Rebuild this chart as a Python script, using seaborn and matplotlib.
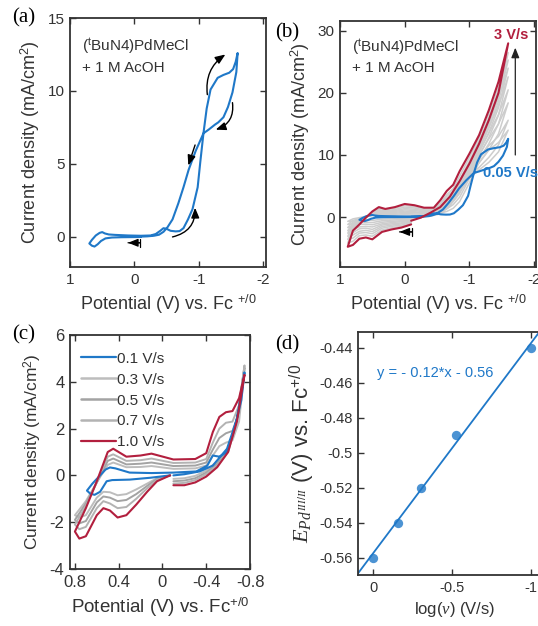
import matplotlib
matplotlib.use("Agg")
import matplotlib.pyplot as plt
from matplotlib.lines import Line2D
from matplotlib.ticker import FuncFormatter
import seaborn as sns

BLUE = "#1f78c8"
RED = "#b21f3e"
INK = "#333333"

# (a) and blue trace in (b): 0.05 V/s, potential (V) and current density (mA/cm2)
slow_e = [-0.1, 0.0, 0.2, 0.35, 0.45, 0.52, 0.57, 0.62, 0.66, 0.70,
          0.66, 0.6, 0.54, 0.5, 0.46, 0.4, 0.3, 0.1, -0.1, -0.25,
          -0.33, -0.4, -0.45, -0.5, -0.56, -0.64, -0.7, -0.76, -0.83, -0.9,
          -0.98, -1.02, -1.07, -1.12, -1.18, -1.29, -1.38, -1.47, -1.53, -1.57, -1.60,
          -1.58, -1.52, -1.45, -1.38, -1.3, -1.25, -1.15, -1.07, -0.95, -0.84,
          -0.76, -0.68, -0.59, -0.51, -0.45, -0.38, -0.3, -0.2, -0.1]
slow_j = [0.0, -0.01, -0.02, -0.04, -0.1, -0.28, -0.5, -0.66, -0.6, -0.45,
          -0.2, 0.1, 0.28, 0.33, 0.24, 0.17, 0.14, 0.1, 0.08, 0.1,
          0.2, 0.42, 0.6, 0.55, 0.42, 0.38, 0.4, 0.6, 1.2, 1.9,
          3.4, 5.1, 7.1, 8.8, 10.1, 10.9, 11.1, 11.25, 11.5, 12.0, 12.6,
          11.3, 9.9, 8.9, 8.2, 7.85, 7.7, 7.35, 7.1, 5.9, 4.6,
          3.4, 2.3, 1.2, 0.65, 0.35, 0.15, 0.08, 0.04, 0.02]

# (b) scan-rate series on shared potential grids: start -> +vertex, -> -vertex, -> end
b_init_e = [-0.1, 0.05, 0.2, 0.35, 0.5, 0.6, 0.7, 0.8, 0.88]
b_fwd_e = [0.88, 0.8, 0.7, 0.6, 0.5, 0.4, 0.3, 0.15, 0.0, -0.15, -0.3,
           -0.45, -0.55, -0.65, -0.75, -0.85, -1.0, -1.15, -1.3, -1.45, -1.6]
b_rev_e = [-1.6, -1.45, -1.3, -1.15, -1.0, -0.85, -0.7, -0.55, -0.4, -0.25, -0.1]

b_red_init = [-1.2, -1.7, -2.0, -2.4, -3.6, -3.3, -3.5, -4.5, -4.8]
b_red_fwd = [-4.8, -2.2, -1.2, -0.1, 0.9, 1.6, 1.3, 1.6, 2.1, 1.9, 1.5,
             1.5, 2.7, 4.2, 5.2, 7.4, 10.2, 13.2, 17.2, 21.8, 28.0]
b_red_rev = [28.0, 20.0, 15.6, 11.8, 8.6, 5.8, 3.3, 1.6, 0.7, -0.1, -0.6]

b_gray_init = [
    [-0.2, -0.25, -0.3, -0.35, -0.55, -0.5, -0.55, -0.7, -0.7],
    [-0.3, -0.4, -0.5, -0.6, -0.9, -0.85, -0.9, -1.1, -1.2],
    [-0.4, -0.6, -0.7, -0.85, -1.25, -1.15, -1.2, -1.6, -1.7],
    [-0.55, -0.75, -0.9, -1.1, -1.6, -1.5, -1.6, -2.0, -2.2],
    [-0.65, -0.95, -1.1, -1.3, -2.0, -1.8, -1.9, -2.5, -2.6],
    [-0.8, -1.1, -1.3, -1.55, -2.35, -2.15, -2.3, -2.9, -3.1],
    [-0.9, -1.3, -1.5, -1.8, -2.7, -2.5, -2.6, -3.4, -3.6],
    [-1.05, -1.5, -1.75, -2.1, -3.1, -2.9, -3.0, -3.9, -4.2],
]
b_gray_fwd = [
    [-0.7, -0.3, -0.1, 0.1, 0.25, 0.35, 0.3, 0.3, 0.35, 0.3, 0.3, 0.35, 0.6, 0.9, 1.4, 2.5, 5.5, 8.8, 10.8, 12.0, 14.0],
    [-1.2, -0.55, -0.25, 0.05, 0.3, 0.45, 0.4, 0.45, 0.55, 0.5, 0.45, 0.5, 0.8, 1.3, 2.0, 3.2, 6.2, 9.3, 11.5, 13.0, 15.6],
    [-1.7, -0.8, -0.4, 0.0, 0.35, 0.6, 0.5, 0.6, 0.75, 0.7, 0.6, 0.6, 1.0, 1.7, 2.5, 3.8, 6.8, 10.0, 12.6, 15.0, 18.4],
    [-2.2, -1.0, -0.55, -0.05, 0.4, 0.75, 0.6, 0.75, 0.95, 0.85, 0.7, 0.7, 1.2, 2.1, 3.0, 4.4, 7.4, 10.6, 13.5, 16.5, 20.5],
    [-2.6, -1.25, -0.65, -0.05, 0.5, 0.9, 0.75, 0.9, 1.15, 1.05, 0.85, 0.85, 1.45, 2.5, 3.4, 5.0, 8.0, 11.2, 14.4, 18.0, 22.6],
    [-3.1, -1.45, -0.8, -0.05, 0.6, 1.05, 0.85, 1.05, 1.35, 1.25, 1.0, 1.0, 1.7, 2.9, 3.8, 5.5, 8.6, 11.8, 15.2, 19.2, 24.0],
    [-3.6, -1.7, -0.9, -0.1, 0.7, 1.2, 1.0, 1.2, 1.6, 1.45, 1.15, 1.15, 1.95, 3.3, 4.2, 6.0, 9.0, 12.3, 15.9, 20.2, 25.3],
    [-4.2, -1.95, -1.05, -0.1, 0.8, 1.4, 1.15, 1.4, 1.85, 1.65, 1.3, 1.3, 2.2, 3.6, 4.6, 6.6, 9.6, 12.8, 16.6, 21.0, 26.5],
]
b_gray_rev = [
    [14.0, 10.5, 8.8, 7.6, 6.3, 4.0, 1.8, 0.5, 0.15, 0.0, -0.05],
    [15.6, 11.6, 9.6, 8.0, 6.6, 4.3, 2.0, 0.6, 0.2, 0.0, -0.1],
    [18.4, 13.4, 10.8, 8.7, 7.0, 4.6, 2.3, 0.75, 0.25, -0.02, -0.15],
    [20.5, 15.0, 11.8, 9.3, 7.3, 4.9, 2.5, 0.9, 0.3, -0.04, -0.2],
    [22.6, 16.4, 12.8, 9.9, 7.6, 5.1, 2.7, 1.0, 0.35, -0.06, -0.3],
    [24.0, 17.6, 13.6, 10.4, 7.9, 5.3, 2.9, 1.1, 0.4, -0.07, -0.35],
    [25.3, 18.6, 14.3, 10.8, 8.1, 5.5, 3.1, 1.2, 0.45, -0.08, -0.4],
    [26.5, 19.5, 14.9, 11.2, 8.3, 5.7, 3.3, 1.3, 0.5, -0.09, -0.45],
]

# (c) 0.1-1.0 V/s, shared grids: start -> -vertex, -> +vertex, -> end
c_seg1_e = [-0.1, -0.2, -0.3, -0.4, -0.5, -0.6, -0.68, -0.75]
c_seg2_e = [-0.75, -0.7, -0.64, -0.58, -0.52, -0.46, -0.4, -0.3, -0.1,
            0.1, 0.2, 0.33, 0.45, 0.5, 0.6, 0.7, 0.8]
c_seg3_e = [0.8, 0.76, 0.7, 0.6, 0.54, 0.48, 0.41, 0.33, 0.24, 0.14, 0.05, -0.07]

c_red_1 = [-0.42, -0.42, -0.3, -0.05, 0.35, 1.0, 2.3, 4.3]
c_red_2 = [4.3, 3.3, 2.75, 2.7, 2.5, 1.85, 0.95, 0.7, 0.68, 0.93, 0.85, 0.8, 1.14, 1.0, -0.25, -1.4, -2.4]
c_red_3 = [-2.4, -2.7, -2.6, -1.7, -1.4, -1.5, -1.8, -1.7, -1.25, -0.7, -0.25, 0.0]

c_gray_labels = ["0.3 V/s", "0.5 V/s", "0.7 V/s"]
c_gray_colors = ["#bdbdbd", "#a3a3a3", "#b3b3b3"]
c_gray_1 = [
    [-0.15, -0.12, -0.02, 0.2, 0.6, 1.1, 2.4, 4.5],
    [-0.25, -0.22, -0.12, 0.12, 0.5, 1.05, 2.35, 4.6],
    [-0.35, -0.32, -0.2, 0.05, 0.42, 1.0, 2.3, 4.7],
]
c_gray_2 = [
    [4.5, 2.3, 1.5, 1.4, 1.25, 0.85, 0.42, 0.3, 0.28, 0.4, 0.36, 0.35, 0.55, 0.45, -0.3, -1.1, -1.7],
    [4.6, 2.7, 1.9, 1.8, 1.6, 1.1, 0.55, 0.42, 0.4, 0.55, 0.5, 0.47, 0.72, 0.62, -0.3, -1.2, -1.9],
    [4.7, 3.0, 2.3, 2.25, 2.0, 1.4, 0.7, 0.55, 0.53, 0.72, 0.65, 0.62, 0.9, 0.8, -0.3, -1.3, -2.1],
]
c_gray_3 = [
    [-1.7, -1.8, -1.7, -0.95, -0.7, -0.72, -0.85, -0.8, -0.6, -0.35, -0.12, 0.0],
    [-1.9, -2.05, -1.95, -1.15, -0.9, -0.95, -1.1, -1.05, -0.8, -0.45, -0.15, 0.0],
    [-2.1, -2.3, -2.2, -1.4, -1.1, -1.2, -1.4, -1.35, -1.0, -0.55, -0.2, 0.0],
]

c_blue_e = [-0.1, -0.2, -0.34, -0.46, -0.59, -0.68, -0.75, -0.72, -0.65, -0.59, -0.52,
            -0.46, -0.41, -0.31, -0.1, 0.1, 0.3, 0.43, 0.48, 0.52, 0.57, 0.64, 0.69,
            0.66, 0.62, 0.57, 0.51, 0.46, 0.3, 0.11, -0.07]
c_blue_j = [0.0, 0.05, 0.17, 0.42, 1.14, 2.4, 4.4, 3.2, 1.86, 1.0, 0.8,
            0.85, 0.42, 0.17, 0.12, 0.1, 0.12, 0.3, 0.34, 0.25, 0.0, -0.35, -0.65,
            -0.78, -0.83, -0.7, -0.25, -0.2, -0.18, -0.1, 0.0]

# (d) peak potential vs log scan rate (1.0, 0.7, 0.5, 0.3, 0.1 V/s)
log_rate = [0.0, -0.155, -0.301, -0.523, -1.0]
peak_e = [-0.56, -0.54, -0.52, -0.49, -0.44]
fit_text = "y = - 0.12*x - 0.56"

sns.set_theme(style="ticks")
plt.rcParams["font.family"] = ["Liberation Sans", "DejaVu Sans"]
plt.rcParams["axes.unicode_minus"] = False
plt.rcParams["mathtext.fontset"] = "custom"
plt.rcParams["mathtext.rm"] = "Liberation Sans"
plt.rcParams["mathtext.it"] = "Liberation Serif:italic"
plt.rcParams["mathtext.bf"] = "Liberation Sans:bold"
plt.rcParams["text.color"] = INK
plt.rcParams["axes.labelcolor"] = INK

fmt = FuncFormatter(lambda v, p: f"{v:g}")


def style_axes(ax, size):
    ax.tick_params(direction="in", top=True, right=True, length=4, width=1.0,
                   labelsize=size, colors=INK, pad=4)
    for sp in ax.spines.values():
        sp.set_linewidth(1.3)
        sp.set_color(INK)
    ax.xaxis.set_major_formatter(fmt)
    ax.yaxis.set_major_formatter(fmt)


def trace(ax, e, j, color, lw=1.5, z=2):
    sns.lineplot(x=e, y=j, sort=False, estimator=None, color=color,
                 linewidth=lw, ax=ax, zorder=z)


def start_arrow(ax, tail, head):
    ax.annotate("", xy=head, xytext=tail,
                arrowprops=dict(arrowstyle="-|>,head_length=0.5,head_width=0.2",
                                color="black", lw=0.9, shrinkA=0, shrinkB=0))
    ax.annotate("", xy=head, xytext=tail,
                arrowprops=dict(arrowstyle="]-,widthA=0.25,lengthA=0", color="black",
                                lw=0.9, shrinkA=0, shrinkB=0))


def curved_arrow(ax, tail, head, rad):
    ax.annotate("", xy=head, xytext=tail,
                arrowprops=dict(arrowstyle="-|>,head_length=0.5,head_width=0.2",
                                color="black", lw=1.0, shrinkA=0, shrinkB=0,
                                connectionstyle=f"arc3,rad={rad}"))


W, H = 538, 626
fig = plt.figure(figsize=(W / 100, H / 100), dpi=100)
ax_a = fig.add_axes([70 / W, 1 - 267 / H, 196 / W, 249 / H])
ax_b = fig.add_axes([340 / W, 1 - 267 / H, 196 / W, 246 / H])
ax_c = fig.add_axes([70 / W, 1 - 569 / H, 180 / W, 234 / H])
ax_d = fig.add_axes([358 / W, 1 - 575 / H, 193 / W, 243 / H])

# ---- (a)
trace(ax_a, slow_e, slow_j, BLUE)
ax_a.set_xlim(1, -2.04)
ax_a.set_ylim(-2.06, 15)
ax_a.set_xticks([1, 0, -1, -2])
ax_a.set_yticks([0, 5, 10, 15])
style_axes(ax_a, 11)
ax_a.set_xlabel("Potential (V) vs. Fc $^{+/0}$", fontsize=13)
ax_a.set_ylabel("Current density (mA/cm$^2$)", fontsize=13)
ax_a.text(0.06, 0.888, r"($^\mathrm{t}$BuN4)PdMeCl", transform=ax_a.transAxes,
          fontsize=11, va="center")
ax_a.text(0.06, 0.80, "+ 1 M AcOH", transform=ax_a.transAxes, fontsize=11, va="center")
start_arrow(ax_a, (-0.09, -0.4), (0.1, -0.4))
curved_arrow(ax_a, (-1.13, 9.75), (-1.41, 12.5), -0.3)
curved_arrow(ax_a, (-1.52, 9.2), (-1.26, 7.35), -0.4)
curved_arrow(ax_a, (-0.94, 6.3), (-0.835, 4.9), 0.0)
curved_arrow(ax_a, (-0.59, 0.0), (-0.94, 2.0), 0.4)

# ---- (b)
for k in range(len(b_gray_fwd)):
    trace(ax_b, b_init_e + b_fwd_e + b_rev_e,
          b_gray_init[k] + b_gray_fwd[k] + b_gray_rev[k], "#cdcdcd", lw=1.1, z=1)
trace(ax_b, slow_e, slow_j, BLUE, z=3)
trace(ax_b, b_init_e + b_fwd_e + b_rev_e, b_red_init + b_red_fwd + b_red_rev, RED, z=4)
ax_b.set_xlim(1, -2.03)
ax_b.set_ylim(-8.06, 31.6)
ax_b.set_xticks([1, 0, -1, -2])
ax_b.set_yticks([0, 10, 20, 30])
style_axes(ax_b, 11)
ax_b.set_xlabel("Potential (V) vs. Fc $^{+/0}$", fontsize=13)
ax_b.set_ylabel("Current density (mA/cm$^2$)", fontsize=13)
ax_b.text(0.06, 0.894, r"($^\mathrm{t}$BuN4)PdMeCl", transform=ax_b.transAxes,
          fontsize=11, va="center")
ax_b.text(0.06, 0.81, "+ 1 M AcOH", transform=ax_b.transAxes, fontsize=11, va="center")
ax_b.text(-1.65, 29.4, "3 V/s", color=RED, fontsize=10.5, fontweight="bold",
          ha="center", va="center")
ax_b.text(-1.63, 7.1, "0.05 V/s", color=BLUE, fontsize=10.5, fontweight="bold",
          ha="center", va="center")
ax_b.annotate("", xy=(-1.71, 27.3), xytext=(-1.71, 10.0),
              arrowprops=dict(arrowstyle="-|>,head_length=0.5,head_width=0.2",
                              color="#222222", lw=0.9, shrinkA=0, shrinkB=0))
start_arrow(ax_b, (-0.12, -2.4), (0.08, -2.4))

# ---- (c)
for k in range(len(c_gray_labels)):
    trace(ax_c, c_seg1_e + c_seg2_e + c_seg3_e,
          c_gray_1[k] + c_gray_2[k] + c_gray_3[k], c_gray_colors[k], lw=1.4, z=1)
trace(ax_c, c_blue_e, c_blue_j, BLUE, z=3)
trace(ax_c, c_seg1_e + c_seg2_e + c_seg3_e, c_red_1 + c_red_2 + c_red_3, RED, z=4)
ax_c.set_xlim(0.845, -0.8)
ax_c.set_ylim(-4, 6)
ax_c.set_xticks([0.8, 0.4, 0, -0.4, -0.8])
ax_c.set_yticks([-4, -2, 0, 2, 4, 6])
style_axes(ax_c, 12)
ax_c.set_xlabel("Potential (V) vs. Fc$^{+/0}$", fontsize=13.5)
ax_c.set_ylabel("Current density (mA/cm$^2$)", fontsize=12.5)
handles = [Line2D([], [], color=BLUE, lw=1.6)]
handles += [Line2D([], [], color=c, lw=1.8) for c in c_gray_colors]
handles += [Line2D([], [], color=RED, lw=1.6)]
ax_c.legend(handles, ["0.1 V/s"] + c_gray_labels + ["1.0 V/s"], loc="upper left",
            bbox_to_anchor=(0.0, 0.974), frameon=False, fontsize=11, handlelength=2.3,
            handletextpad=0.1, labelspacing=0.45, borderaxespad=0.3)

# ---- (d)
ax_d.set_xlim(0.095, -1.126)
ax_d.set_ylim(-0.57, -0.431)
sns.regplot(x=log_rate, y=peak_e, ci=None, truncate=False, color=BLUE, ax=ax_d,
            scatter_kws=dict(s=45, linewidths=0, zorder=3),
            line_kws=dict(linewidth=1.3, zorder=2))
ax_d.set_xlim(0.095, -1.126)
ax_d.set_ylim(-0.57, -0.431)
ax_d.set_xticks([0, -0.5, -1])
ax_d.set_yticks([-0.56, -0.54, -0.52, -0.5, -0.48, -0.46, -0.44])
style_axes(ax_d, 10.5)
ax_d.set_xlabel(r"log($\nu$) (V/s)", fontsize=12)
ax_d.set_ylabel(r"$E_{Pd^{III/II}}$ (V) vs. Fc$^{+/0}$", fontsize=16, labelpad=2)
ax_d.text(0.098, 0.831, fit_text, transform=ax_d.transAxes, color=BLUE,
          fontsize=10.5, va="center")

for lab, x, y in [("(a)", 12, 18), ("(b)", 275, 33), ("(c)", 12, 335), ("(d)", 275, 345)]:
    fig.text(x / W, 1 - y / H, lab, family="Liberation Serif", fontsize=15,
             va="center", ha="left", color="black")

fig.savefig("out.png", dpi=100)
plt.close(fig)
